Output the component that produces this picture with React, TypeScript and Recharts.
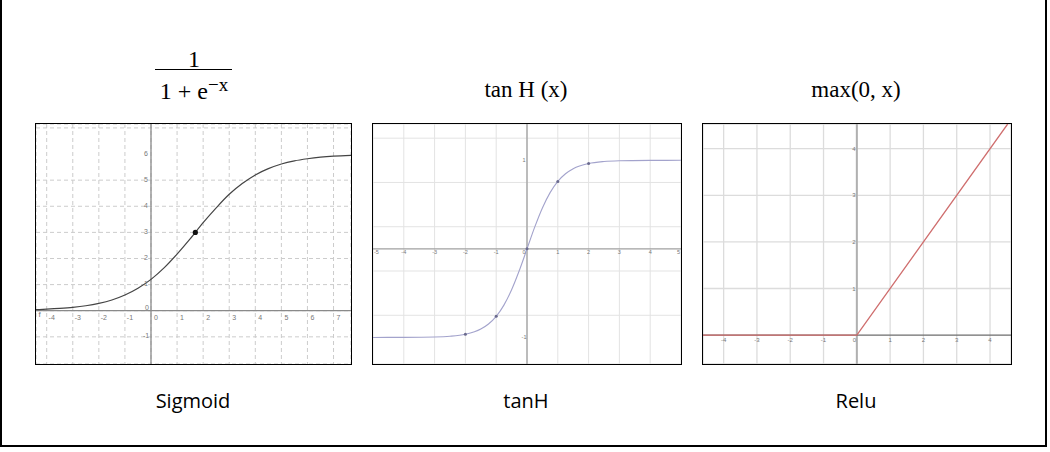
import React from 'react';
import {
  ComposedChart,
  Line,
  Scatter,
  XAxis,
  YAxis,
  CartesianGrid,
  ReferenceLine,
  ReferenceDot,
} from 'recharts';

// sigmoid panel
const sigmoidX = [-4.41, -4, -3.5, -3, -2.5, -2, -1.5, -1, -0.5, 0, 0.5, 1, 1.5, 2, 2.5, 3, 3.5, 4, 4.5, 5, 5.5, 6, 6.5, 7, 7.67];
const sigmoidY = [0.04, 0.06, 0.09, 0.13, 0.19, 0.28, 0.41, 0.6, 0.86, 1.2, 1.64, 2.17, 2.75, 3.37, 3.94, 4.46, 4.87, 5.2, 5.44, 5.62, 5.74, 5.82, 5.88, 5.92, 5.95];
const sigmoidMark = [{ x: 1.7, y: 3 }];
const sigmoidGridX = [-4, -3, -2, -1, 0, 1, 2, 3, 4, 5, 6, 7];
const sigmoidGridY = [-2, -1, 0, 1, 2, 3, 4, 5, 6, 7];
const sigmoidTicksX = ['-4', '-3', '-2', '-1', '0', '1', '2', '3', '4', '5', '6', '7'];
const sigmoidTicksY = ['-1', '1', '2', '3', '4', '5', '6'];

// tanh panel
const tanhX = [-5, -4, -3, -2.5, -2, -1.5, -1.25, -1, -0.75, -0.5, -0.25, 0, 0.25, 0.5, 0.75, 1, 1.25, 1.5, 2, 2.5, 3, 4, 5];
const tanhY = [-1, -0.999, -0.995, -0.987, -0.964, -0.905, -0.848, -0.762, -0.635, -0.462, -0.245, 0, 0.245, 0.462, 0.635, 0.762, 0.848, 0.905, 0.964, 0.987, 0.995, 0.999, 1];
const tanhDotsX = [-2, -1, 0, 1, 2];
const tanhDotsY = [-0.964, -0.762, 0, 0.762, 0.964];
const tanhGridX = [-5, -4.5, -4, -3.5, -3, -2.5, -2, -1.5, -1, -0.5, 0, 0.5, 1, 1.5, 2, 2.5, 3, 3.5, 4, 4.5, 5];
const tanhGridY = [-1.25, -1, -0.75, -0.5, -0.25, 0, 0.25, 0.5, 0.75, 1, 1.25];
const tanhTicksX = ['-4', '-3', '-2', '-1', '1', '2', '3', '4'];
const tanhEdgeTicks = ['-5', '5'];
const tanhTicksY = ['-1', '1'];

// relu panel
const reluX = [-4.62, 0, 4.53];
const reluY = [0, 0, 4.53];
const reluGridX = [-4, -3, -2, -1, 0, 1, 2, 3, 4];
const reluGridY = [1, 2, 3, 4];
const reluTicksX = ['-4', '-3', '-2', '-1', '1', '2', '3', '4'];
const reluTicksY = ['1', '2', '3', '4'];

const sigmoidData = sigmoidX.map((x, i) => ({ x, y: sigmoidY[i] }));
const tanhData = tanhX.map((x, i) => ({ x, y: tanhY[i] }));
const tanhDots = tanhDotsX.map((x, i) => ({ x, y: tanhDotsY[i] }));
const reluData = reluX.map((x, i) => ({ x, y: reluY[i] }));

const tickFont = 'Liberation Sans, Arial, sans-serif';

function tickText(label: string, dx: number, dy: number, size: number, anchor = 'middle') {
  return (p: any) => (
    <text
      x={p.cx + dx}
      y={p.cy + dy}
      fontSize={size}
      fill="#777"
      textAnchor={anchor}
      dominantBaseline="central"
      fontFamily={tickFont}
    >
      {label}
    </text>
  );
}

function Box({ left, width, children }: { left: number; width: number; children: React.ReactNode }) {
  return (
    <div
      style={{
        position: 'absolute',
        left,
        top: 123,
        width,
        height: 240,
        border: '1px solid #000',
        background: '#fff',
      }}
    >
      {children}
    </div>
  );
}

function hiddenAxes(xDomain: number[], yDomain: number[], gx: number[], gy: number[]) {
  return [
    <XAxis key="x" dataKey="x" type="number" domain={xDomain} ticks={gx} allowDataOverflow hide />,
    <YAxis key="y" dataKey="y" type="number" domain={yDomain} ticks={gy} allowDataOverflow hide />,
  ];
}

function SigmoidChart() {
  return (
    <ComposedChart width={315} height={240} margin={{ top: 0, right: 0, bottom: 0, left: 0 }}>
      {hiddenAxes([-4.41, 7.67], [-2.04, 7.15], sigmoidGridX, sigmoidGridY)}
      <CartesianGrid stroke="#cccccc" strokeDasharray="4 3" />
      <ReferenceLine x={0} stroke="#8a8a8a" strokeWidth={1.3} />
      <ReferenceLine y={0} stroke="#8a8a8a" strokeWidth={1.3} />
      <Line data={sigmoidData} dataKey="y" type="monotone" stroke="#444" strokeWidth={1.2} dot={false} isAnimationActive={false} />
      <Scatter
        data={sigmoidMark}
        dataKey="y"
        isAnimationActive={false}
        shape={(p: any) => <circle cx={p.cx} cy={p.cy} r={2.6} fill="#111" />}
      />
      {sigmoidTicksX.map((t) => (
        <ReferenceDot key={'sx' + t} x={Number(t)} y={0} ifOverflow="visible" shape={tickText(t, 5, 7, 7)} />
      ))}
      {sigmoidTicksY.map((t) => (
        <ReferenceDot key={'sy' + t} x={0} y={Number(t)} ifOverflow="visible" shape={tickText(t, -5, -1, 7)} />
      ))}
      <ReferenceDot x={0} y={0} ifOverflow="visible" shape={tickText('0', -4, -3, 7)} />
      <ReferenceDot x={-4.41} y={0} ifOverflow="visible" shape={tickText('f', 2.5, 4, 8, 'start')} />
    </ComposedChart>
  );
}

function TanhChart() {
  return (
    <ComposedChart width={308} height={240} margin={{ top: 0, right: 0, bottom: 0, left: 0 }}>
      {hiddenAxes([-5, 5], [-1.3, 1.41], tanhGridX, tanhGridY)}
      <CartesianGrid stroke="#e3e3e3" />
      <ReferenceLine x={0} stroke="#a0a0a0" strokeWidth={1.3} />
      <ReferenceLine y={0} stroke="#a0a0a0" strokeWidth={1.3} />
      <Line data={tanhData} dataKey="y" type="monotone" stroke="#a3a3cc" strokeWidth={1.1} dot={false} isAnimationActive={false} />
      <Scatter
        data={tanhDots}
        dataKey="y"
        isAnimationActive={false}
        shape={(p: any) => <circle cx={p.cx} cy={p.cy} r={1.5} fill="#6a6a8e" />}
      />
      {tanhTicksX.map((t) => (
        <ReferenceDot key={'tx' + t} x={Number(t)} y={0} ifOverflow="visible" shape={tickText(t, 0, 3, 5.5)} />
      ))}
      <ReferenceDot x={Number(tanhEdgeTicks[0])} y={0} ifOverflow="visible" shape={tickText(tanhEdgeTicks[0], 1, 3, 5.5, 'start')} />
      <ReferenceDot x={Number(tanhEdgeTicks[1])} y={0} ifOverflow="visible" shape={tickText(tanhEdgeTicks[1], -1, 3, 5.5, 'end')} />
      {tanhTicksY.map((t) => (
        <ReferenceDot key={'ty' + t} x={0} y={Number(t)} ifOverflow="visible" shape={tickText(t, -3, 0, 5.5)} />
      ))}
      <ReferenceDot x={0} y={0} ifOverflow="visible" shape={tickText('0', -3, 3, 5.5)} />
    </ComposedChart>
  );
}

function ReluChart() {
  return (
    <ComposedChart width={308} height={240} margin={{ top: 0, right: 0, bottom: 0, left: 0 }}>
      {hiddenAxes([-4.62, 4.63], [-0.62, 4.53], reluGridX, reluGridY)}
      <CartesianGrid stroke="#dcdcdc" strokeWidth={1.3} />
      <ReferenceLine x={0} stroke="#b0b0b0" strokeWidth={2} />
      <ReferenceLine y={0} stroke="#6c6c6c" strokeWidth={1.2} />
      <Line data={reluData} dataKey="y" type="linear" stroke="#cf6e6e" strokeWidth={1.3} dot={false} isAnimationActive={false} />
      {reluTicksX.map((t) => (
        <ReferenceDot key={'rx' + t} x={Number(t)} y={0} ifOverflow="visible" shape={tickText(t, 0, 5, 6)} />
      ))}
      {reluTicksY.map((t) => (
        <ReferenceDot key={'ry' + t} x={0} y={Number(t)} ifOverflow="visible" shape={tickText(t, -3, 0, 6)} />
      ))}
      <ReferenceDot x={0} y={0} ifOverflow="visible" shape={tickText('0', -2.5, 5, 6)} />
    </ComposedChart>
  );
}

const serif = 'Liberation Serif, Times New Roman, serif';
const sans = 'Open Sans, Noto Sans, sans-serif';

export default function App() {
  return (
    <div style={{ position: 'relative', width: 1050, height: 452, background: '#fff' }}>
      <style>{'body{margin:0;}'}</style>
      <svg width={1050} height={452} style={{ position: 'absolute', left: 0, top: 0 }}>
        <line x1={1} y1={0} x2={1} y2={447} stroke="#000" strokeWidth={2} />
        <line x1={0} y1={446} x2={1047} y2={446} stroke="#000" strokeWidth={2} />
        <line x1={1046} y1={0} x2={1046} y2={447} stroke="#000" strokeWidth={2} />

        <text x={194} y={67} fontSize={24} fontFamily={serif} textAnchor="middle">1</text>
        <line x1={155} y1={69.5} x2={232} y2={69.5} stroke="#000" strokeWidth={1.2} />
        <text x={194} y={99} fontSize={24} fontFamily={serif} textAnchor="middle">
          1 + e
          <tspan fontSize={19} dy={-8}>{'\u2212x'}</tspan>
        </text>

        <text x={526} y={97} fontSize={23} fontFamily={serif} textAnchor="middle">tan H (x)</text>
        <text x={856} y={97} fontSize={23} fontFamily={serif} textAnchor="middle">max(0, x)</text>

        <text x={193} y={408} fontSize={20} fontFamily={sans} textAnchor="middle">Sigmoid</text>
        <text x={526} y={408} fontSize={20} fontFamily={sans} textAnchor="middle">tanH</text>
        <text x={856} y={408} fontSize={20} fontFamily={sans} textAnchor="middle">Relu</text>
      </svg>
      <Box left={35} width={315}>
        <SigmoidChart />
      </Box>
      <Box left={372} width={308}>
        <TanhChart />
      </Box>
      <Box left={702} width={308}>
        <ReluChart />
      </Box>
    </div>
  );
}
